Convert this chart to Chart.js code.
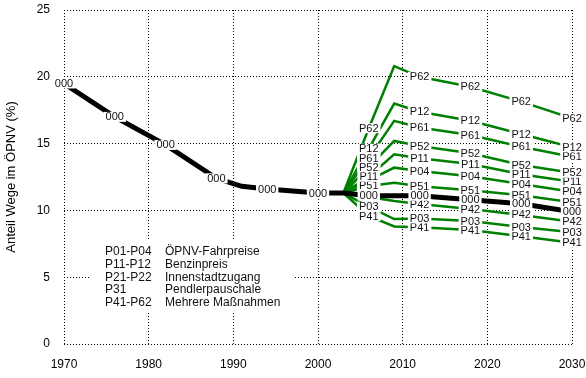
<!DOCTYPE html>
<html>
<head>
<meta charset="utf-8">
<script src="https://cdn.jsdelivr.net/npm/chart.js@4.4.1/dist/chart.umd.min.js"></script>
<style>
  html, body { margin: 0; padding: 0; background: #fff; }
</style>
</head>
<body>
<canvas id="chart" width="586" height="378"></canvas>
<script>
// base case 000, history
const histYears = [1970, 1976, 1982, 1988, 1991, 1994, 2000, 2003];
const histValues = [19.5, 17.0, 14.9, 12.4, 11.8, 11.6, 11.3, 11.3];

// scenario years (same for all lines)
const scenYears = [2003, 2006, 2009, 2012, 2018, 2024, 2030];
const s000 = [11.3, 11.1, 11.1, 11.1, 10.8, 10.5, 9.9];
const sP62 = [11.3, 16.15, 20.8, 20.0, 19.26, 18.14, 16.9];
const sP12 = [11.3, 14.62, 18.0, 17.39, 16.71, 15.72, 14.72];
const sP61 = [11.3, 13.92, 16.7, 16.2, 15.64, 14.77, 14.02];
const sP52 = [11.3, 13.23, 15.2, 14.82, 14.27, 13.4, 12.82];
const sP11 = [11.3, 12.52, 14.2, 13.9, 13.47, 12.7, 12.15];
const sP04 = [11.3, null, 13.2, 12.95, 12.56, 11.97, 11.4];
const sP51 = [11.3, 11.83, 12.07, 11.8, 11.5, 11.13, 10.6];
const sP42 = [11.3, null, 10.7, 10.48, 10.1, 9.66, 9.15];
const sP03 = [11.3, 10.28, 9.35, 9.4, 9.2, 8.75, 8.36];
const sP41 = [11.3, 9.58, 8.8, 8.73, 8.53, 8.06, 7.58];

const scenarioNames = ['P62', 'P12', 'P61', 'P52', 'P11', 'P04', 'P51', 'P42', 'P03', 'P41'];
const scenarioValues = [sP62, sP12, sP61, sP52, sP11, sP04, sP51, sP42, sP03, sP41];

const labelYears = [1970, 1976, 1982, 1988, 1994, 2000, 2006, 2012, 2018, 2024, 2030];

const legendCodes = ['P01-P04', 'P11-P12', 'P21-P22', 'P31', 'P41-P62'];
const legendNames = ['ÖPNV-Fahrpreise', 'Benzinpreis', 'Innenstadtzugang', 'Pendlerpauschale', 'Mehrere Maßnahmen'];

function toPoints(years, values) {
    const pts = [];
    years.forEach((y, i) => {
        if (values[i] !== null) pts.push({ x: y, y: values[i] });
    });
    return pts;
}

const datasets = [{
    label: '000',
    data: toPoints(histYears, histValues).concat(toPoints(scenYears.slice(1), s000.slice(1))),
    borderColor: '#000',
    borderWidth: 5
}];
scenarioNames.forEach((name, i) => {
    datasets.push({
        label: name,
        data: toPoints(scenYears, scenarioValues[i]),
        borderColor: '#008000',
        borderWidth: 2.5
    });
});

const font = 'Liberation Sans, Arial, sans-serif';

const lineLabels = {
    id: 'lineLabels',
    beforeDatasetsDraw(chart) {
        // legend text block with white background
        const ctx = chart.ctx;
        ctx.save();
        ctx.fillStyle = '#fff';
        ctx.fillRect(91, 240, 204, 72);
        ctx.fillStyle = '#111';
        ctx.font = '12px ' + font;
        ctx.textBaseline = 'middle';
        legendCodes.forEach((code, i) => {
            const y = 252 + i * 12.7;
            ctx.fillText(code, 105, y);
            ctx.fillText(legendNames[i], 165, y);
        });
        ctx.restore();
    },
    afterDatasetsDraw(chart) {
        const ctx = chart.ctx;
        ctx.save();
        ctx.font = '11px ' + font;
        ctx.textAlign = 'center';
        ctx.textBaseline = 'middle';
        for (let d = chart.data.datasets.length - 1; d >= 0; d--) {
            const ds = chart.data.datasets[d];
            const meta = chart.getDatasetMeta(d);
            ds.data.forEach((p, i) => {
                if (!labelYears.includes(p.x)) return;
                const el = meta.data[i];
                const w = ctx.measureText(ds.label).width + 4;
                ctx.fillStyle = '#fff';
                ctx.fillRect(el.x - w / 2, el.y - 5, w, 10);
                ctx.fillStyle = '#111';
                ctx.fillText(ds.label, el.x, el.y + 0.5);
            });
        }
        ctx.restore();
    }
};

function noPad(s) {
    s.paddingLeft = 0;
    s.paddingRight = 0;
    s.paddingTop = 0;
    s.paddingBottom = 0;
}

new Chart(document.getElementById('chart'), {
    type: 'line',
    data: { datasets },
    plugins: [lineLabels],
    options: {
        responsive: false,
        animation: false,
        events: [],
        layout: { padding: { left: 0, right: 14, top: 10, bottom: 0 } },
        elements: { point: { radius: 0 }, line: { tension: 0 } },
        plugins: { legend: { display: false }, tooltip: { enabled: false } },
        scales: {
            x: {
                type: 'linear',
                min: 1970,
                max: 2030,
                afterFit: s => { s.height = 34; noPad(s); },
                ticks: { stepSize: 10, padding: 13, color: '#000', font: { size: 12, family: font }, callback: v => String(v) },
                grid: { color: '#000', drawTicks: false },
                border: { display: false, dash: [1, 2] }
            },
            y: {
                min: 0,
                max: 25,
                afterFit: s => { s.width = 64; noPad(s); },
                ticks: { stepSize: 5, padding: 14, color: '#000', font: { size: 12, family: font } },
                grid: { color: '#000', drawTicks: false },
                border: { display: false, dash: [1, 2] },
                title: { display: true, text: 'Anteil Wege im ÖPNV (%)', color: '#000', font: { size: 13, family: font }, padding: { top: 4, bottom: 0 } }
            }
        }
    }
});
</script>
</body>
</html>
